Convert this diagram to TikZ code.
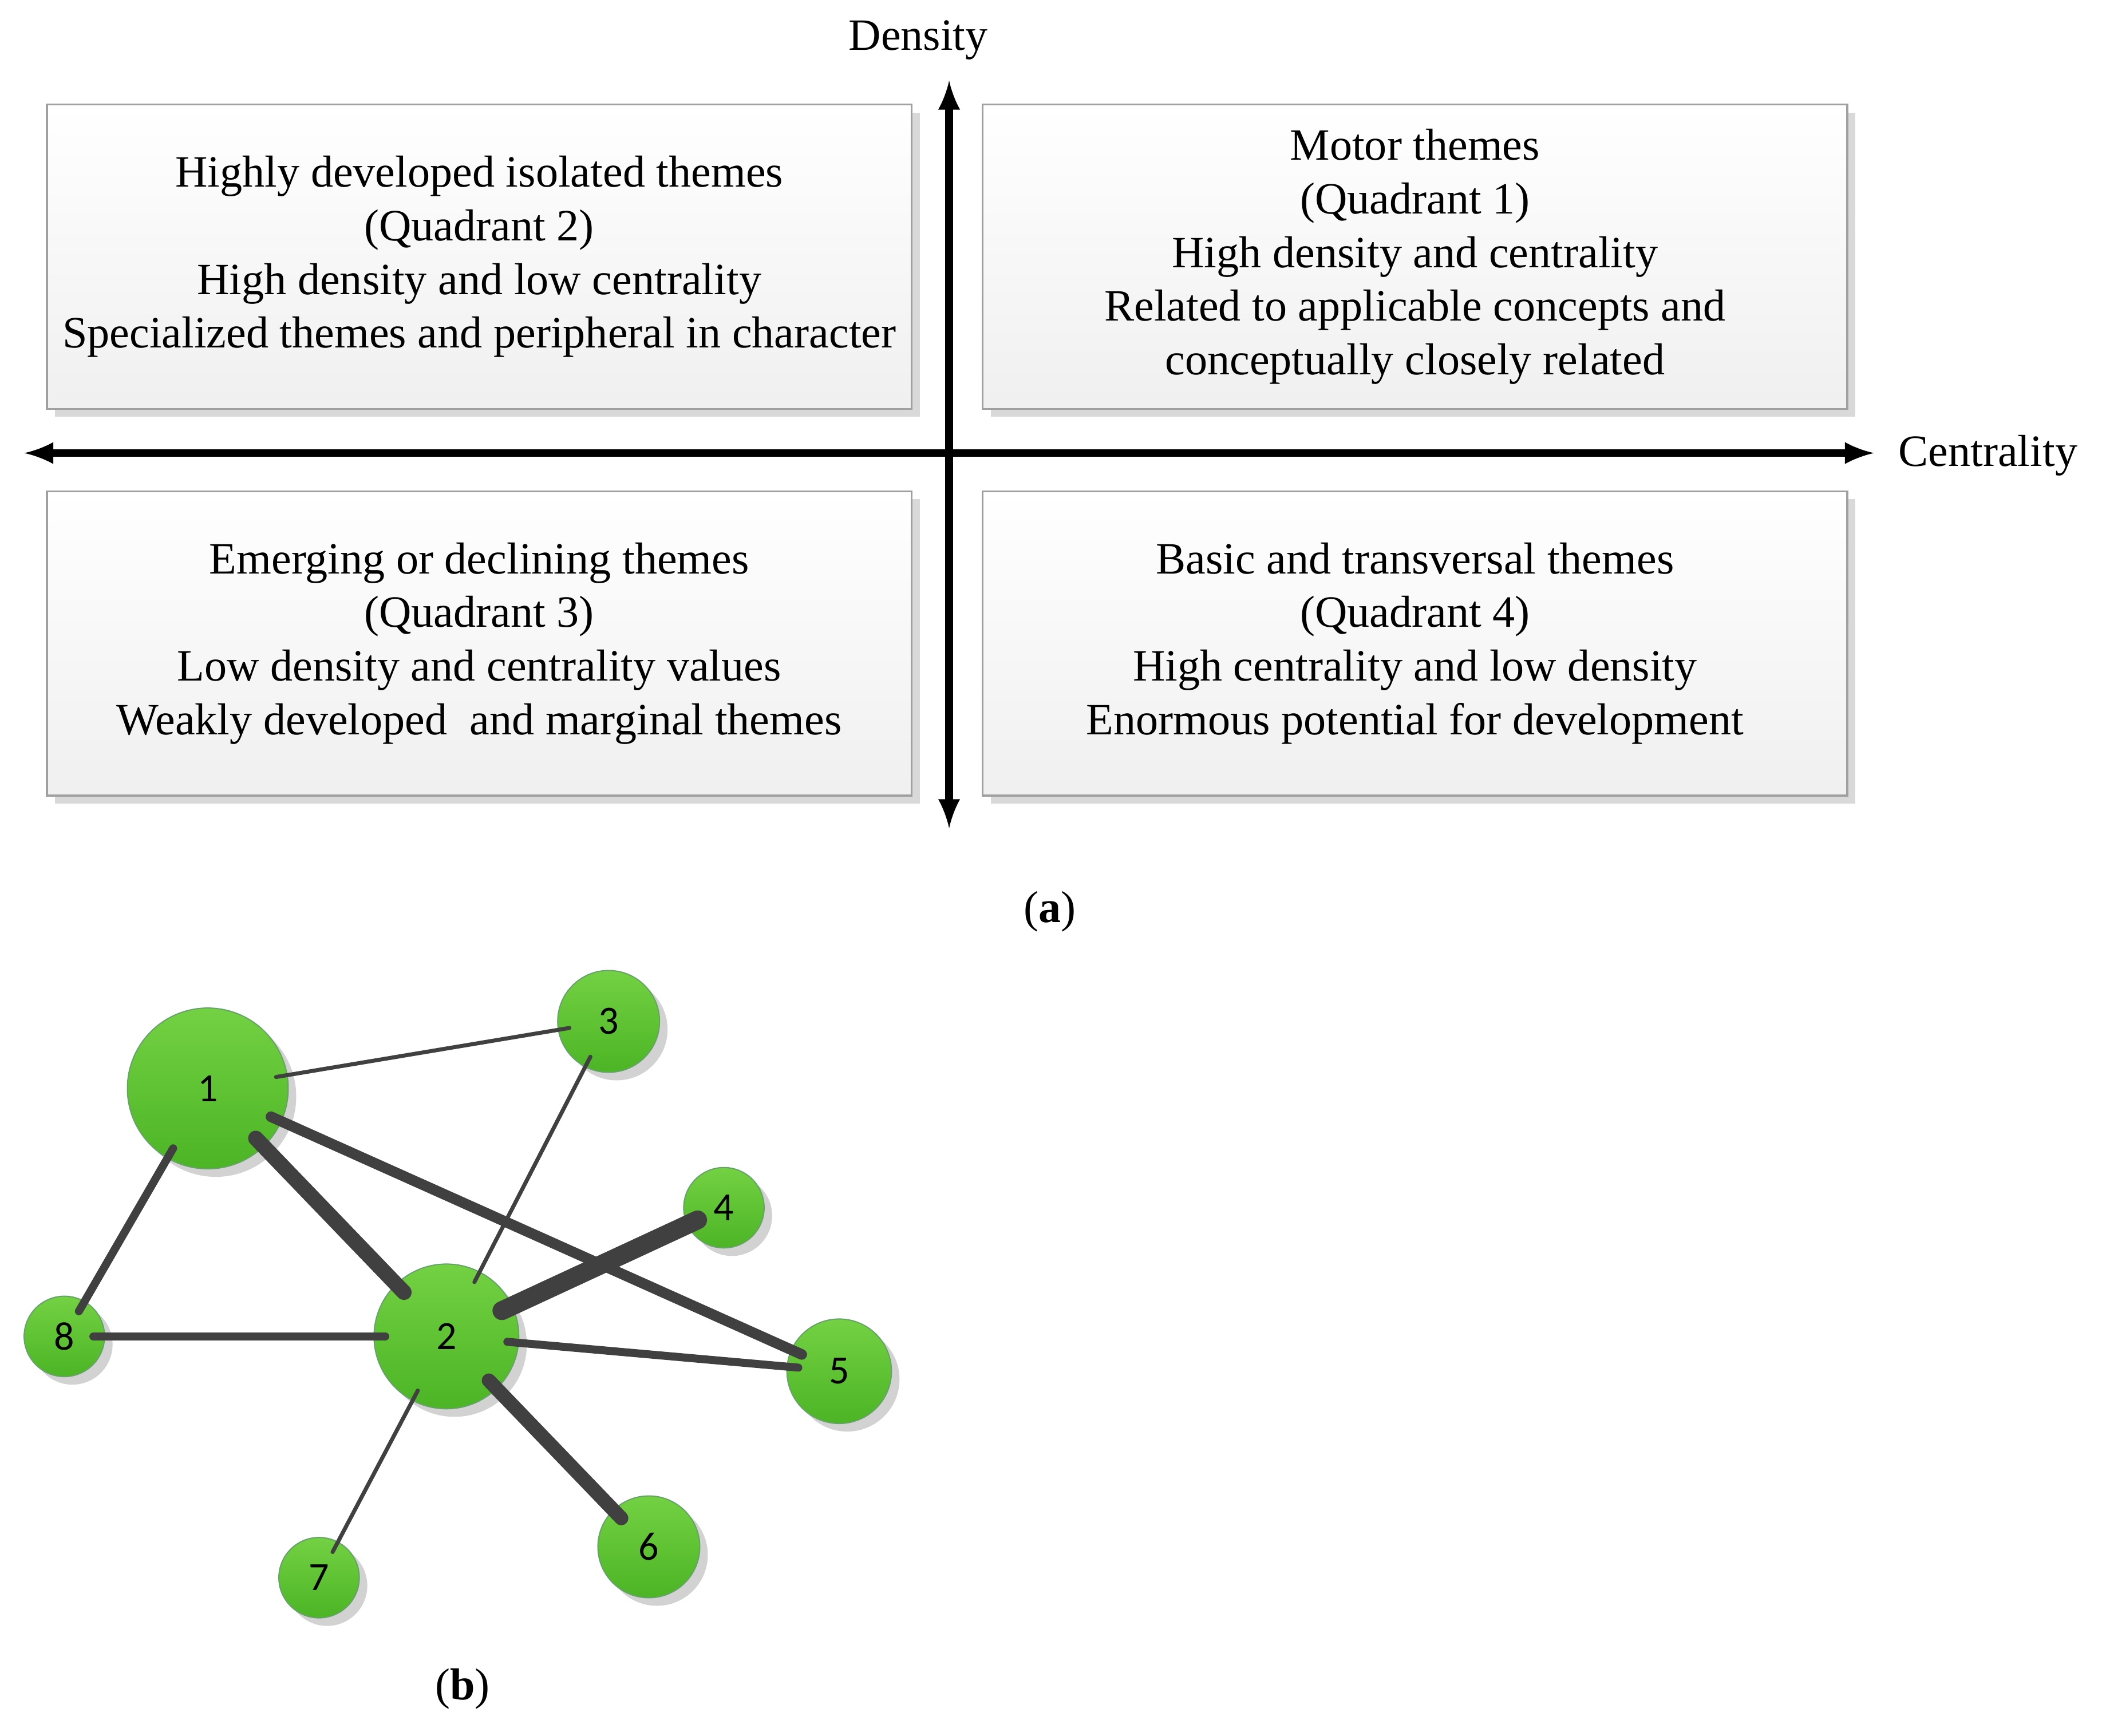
\documentclass[tikz,border=0pt]{standalone}
\usepackage{fontspec}
\setmainfont{Liberation Serif}
\newfontfamily\nodefont{Carlito}
\usetikzlibrary{shadows}
\definecolor{boxedge}{HTML}{A0A0A0}
\definecolor{gtop}{HTML}{73D143}
\definecolor{gbot}{HTML}{4CB525}
\begin{document}
\begin{tikzpicture}[x=0.02cm,y=-0.02cm,
 quad/.style={draw=boxedge,line width=0.8pt,top color=white,bottom color=gray!12,
   drop shadow={shadow xshift=1.2mm,shadow yshift=-1.2mm,fill=gray!30,opacity=1},
   align=center,font=\fontsize{19}{22.8}\selectfont,inner sep=0pt},
 ax/.style={line width=3.2pt,>=latex,<->},
 nd/.style={circle,draw=green!40!black!60,line width=0.5pt,top color=gtop,bottom color=gbot,
   drop shadow={shadow xshift=1.2mm,shadow yshift=-1.2mm,fill=gray!35,opacity=1},
   minimum size=#1*0.04cm,inner sep=0pt,font=\nodefont\fontsize{17}{20}\selectfont},
 e/.style={draw=black!75,line cap=round,line width=#1,shorten <=-5pt,shorten >=-5pt}]
\useasboundingbox (0,0) rectangle (1568,1295);
\node[quad,minimum width=645*0.02cm,minimum height=227*0.02cm] (q2) at (357.5,191.5) {Highly developed isolated themes\\(Quadrant 2)\\High density and low centrality\\Specialized themes and peripheral in character};
\node[quad,minimum width=645*0.02cm,minimum height=227*0.02cm] (q1) at (1055.5,191.5) {Motor themes\\(Quadrant 1)\\High density and centrality\\Related to applicable concepts and\\conceptually closely related};
\node[quad,minimum width=645*0.02cm,minimum height=227*0.02cm] (q3) at (357.5,480) {Emerging or declining themes\\(Quadrant 3)\\Low density and centrality values\\Weakly developed\ \ and marginal themes};
\node[quad,minimum width=645*0.02cm,minimum height=227*0.02cm] (q4) at (1055.5,480) {Basic and transversal themes\\(Quadrant 4)\\High centrality and low density\\Enormous potential for development};
\coordinate (hl) at (18,338); \coordinate (hr) at (1398,338);
\coordinate (vt) at (708,60); \coordinate (vb) at (708,618);
\draw[ax] (hl) -- (hr);
\draw[ax] (vt) -- (vb);
\node[font=\fontsize{19}{22}\selectfont] (dl) at (685,30) {Density};
\node[font=\fontsize{19}{22}\selectfont,anchor=west] (cl) at (1410,340) {Centrality};
\node[font=\fontsize{19}{22}\selectfont] (la) at (783,680) {(\textbf{a})};
\node[font=\fontsize{19}{22}\selectfont] (lb) at (345,1260) {(\textbf{b})};
\node[nd=60] (n1) at (155,812) {1};
\node[nd=54] (n2) at (333,997) {2};
\node[nd=38] (n3) at (454,762) {3};
\node[nd=30] (n4) at (540,901) {4};
\node[nd=39] (n5) at (626,1023) {5};
\node[nd=38] (n6) at (484,1154) {6};
\node[nd=30] (n7) at (238,1177) {7};
\node[nd=30] (n8) at (48,997) {8};
\draw[e=1.7pt] (n1) -- (n3);
\draw[e=6.5pt] (n1) -- (n2);
\draw[e=3.4pt] (n1) -- (n8);
\draw[e=4.5pt] (n1) -- (n5);
\draw[e=1.7pt] (n3) -- (n2);
\draw[e=8pt] (n4) -- (n2);
\draw[e=3.4pt] (n8) -- (n2);
\draw[e=3.4pt] (n2) -- (n5);
\draw[e=6pt] (n2) -- (n6);
\draw[e=1.7pt] (n2) -- (n7);
\end{tikzpicture}
\end{document}
